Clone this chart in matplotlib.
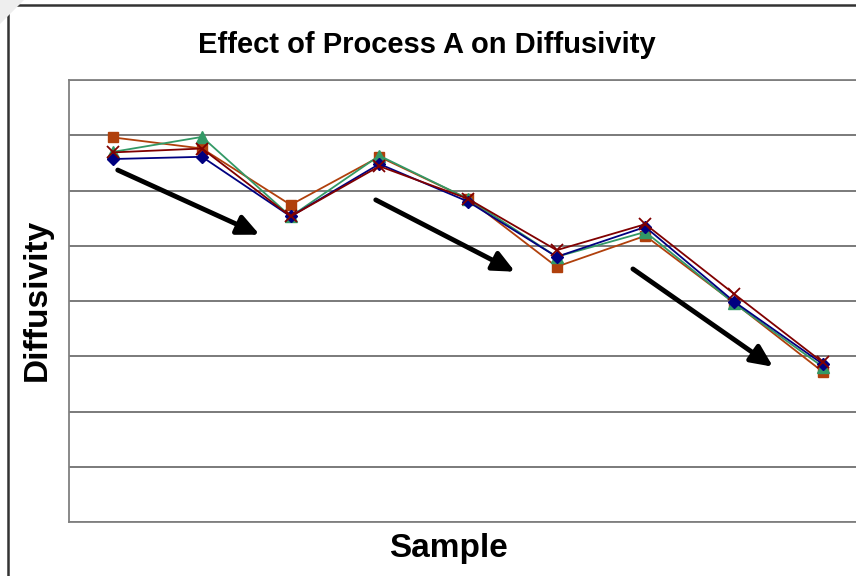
import matplotlib
matplotlib.use("Agg")
import matplotlib.pyplot as plt
from matplotlib.patches import Rectangle, Polygon

plt.rcParams['font.family'] = ['Liberation Sans', 'DejaVu Sans']

samples = list(range(1, 10))
series_blue = [6.57, 6.61, 5.53, 6.48, 5.80, 4.80, 5.34, 3.99, 2.86]
series_orange = [6.96, 6.76, 5.74, 6.61, 5.85, 4.62, 5.18, 3.97, 2.72]
series_green = [6.70, 6.97, 5.53, 6.63, 5.85, 4.80, 5.25, 3.96, 2.81]
series_red = [6.69, 6.76, 5.53, 6.44, 5.85, 4.92, 5.39, 4.13, 2.89]

# trend arrows (start sample, start value, end sample, end value)
arrows = [
    (1.05, 6.37, 2.65, 5.20),
    (3.96, 5.83, 5.53, 4.53),
    (6.86, 4.58, 8.44, 2.81),
]

fig = plt.figure(figsize=(8.56, 5.76), dpi=100)
W, H = 856, 576

# outer chart frame
frame = Rectangle((8 / W, -0.2), 1.2, 1.2 - 5 / H, transform=fig.transFigure,
                  fill=False, edgecolor='#333333', linewidth=1.8, zorder=0)
fig.patches.append(frame)
# light shadow at top-left corner
shadow = Polygon([(0, 1), (24 / W, 1), (0, 1 - 24 / H)], closed=True,
                 transform=fig.transFigure, facecolor='#eeeeee', edgecolor='none')
fig.patches.append(shadow)

left, right, top, bottom = 69, 867, 80, 522
ax = fig.add_axes([left / W, 1 - bottom / H, (right - left) / W, (bottom - top) / H])
ax.set_xlim(0.5, 9.5)
ax.set_ylim(0, 8)
ax.set_yticks(range(0, 9))
ax.yaxis.grid(True, color='#707070', linewidth=1.3)
ax.set_axisbelow(True)
ax.set_xticks([])
ax.tick_params(axis='y', length=0, labelleft=False)
for s in ax.spines.values():
    s.set_color('#808080')
    s.set_linewidth(1.3)

ax.plot(samples, series_orange, color='#B0400C', marker='s', markersize=7, linewidth=1.3)
ax.plot(samples, series_green, color='#339966', marker='^', markersize=8.5, linewidth=1.3)
ax.plot(samples, series_blue, color='#000080', marker='D', markersize=6, linewidth=1.3)
ax.plot(samples, series_red, color='#800000', marker='x', markersize=8.5, markeredgewidth=1.3, linewidth=1.3)

for x0, y0, x1, y1 in arrows:
    ax.annotate('', xy=(x1, y1), xytext=(x0, y0),
                arrowprops=dict(arrowstyle='-|>,head_length=1.3,head_width=0.6',
                                color='black', linewidth=3.5, shrinkA=0, shrinkB=0))

fig.text(427 / W, 1 - 45 / H, 'Effect of Process A on Diffusivity', ha='center', va='center',
         fontsize=21, fontweight='bold')
fig.text(37 / W, 1 - 300 / H, 'Diffusivity', ha='center', va='center', rotation=90,
         fontsize=24, fontweight='bold')
fig.text(448 / W, 1 - 548 / H, 'Sample', ha='center', va='center',
         fontsize=24, fontweight='bold')

fig.savefig('out.png', dpi=100)
